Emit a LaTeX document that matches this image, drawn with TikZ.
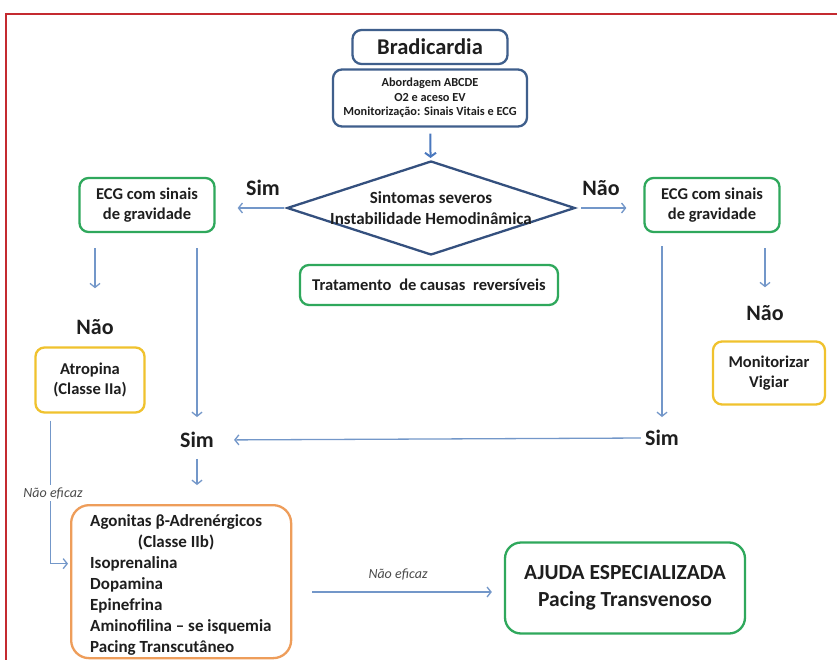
\documentclass[tikz,border=0pt]{standalone}
\usepackage{fontspec}
\usepackage{calc}
\setmainfont{Carlito}
\usetikzlibrary{shapes.geometric,arrows.meta}
\definecolor{framered}{HTML}{C42A30}
\definecolor{navy}{HTML}{3F5F8C}
\definecolor{dnavy}{HTML}{34507E}
\definecolor{grn}{HTML}{2FA85C}
\definecolor{yel}{HTML}{F0C22E}
\definecolor{org}{HTML}{EE9D5A}
\definecolor{arr}{HTML}{7397C9}
\definecolor{arrd}{HTML}{4A78BE}
\definecolor{txt}{HTML}{1E1E1E}
\tikzset{
  box/.style={draw, rounded corners=9pt, line width=2.3pt, align=center, inner sep=0pt, text=txt},
  ecgfont/.style={font=\bfseries\fontsize{16.5}{19.5}\selectfont},
  bigl/.style={font=\bfseries\fontsize{22}{26}\selectfont, inner sep=1pt, text=txt},
  conn/.style={draw=arr, line width=1.3pt, -{Straight Barb[length=4pt,width=10pt]}},
  neff/.style={font=\itshape\fontsize{14}{16}\selectfont, text=txt!80, inner sep=2pt},
}
\begin{document}
\begin{tikzpicture}[x=1pt,y=-1pt]
\useasboundingbox (0,0) rectangle (837,660);
\fill[white] (0,0) rectangle (837,660);
% frame
\draw[framered, line width=2.4pt] (6,680) -- (6,14) -- (860,14);

% top
\node[box, draw=navy, minimum width=155, minimum height=34, font=\bfseries\fontsize{22.5}{26}\selectfont] (brad) at (430,47) {Bradicardia};
\node[box, draw=navy, minimum width=194, minimum height=57, font=\bfseries\fontsize{12.3}{14.5}\selectfont] (abc) at (430,98) {Abordagem ABCDE\\O2 e aceso EV\\Monitorização: Sinais Vitais e ECG};

\node[diamond, draw=dnavy, line width=2.3pt, minimum width=288, minimum height=94, inner sep=0pt,
  label={[align=center, font=\bfseries\fontsize{17}{21}\selectfont, text=txt]center:Sintomas severos\\Instabilidade Hemodinâmica}] (dia) at (431,208) {};

\draw[draw=arrd, line width=2pt, -{Straight Barb[length=4pt,width=11pt]}, shorten <=6pt, shorten >=2pt] (abc) -- (dia);

% side ECG boxes
\node[box, draw=grn, ecgfont, minimum width=135, minimum height=54] (lecg) at (147,205) {ECG com sinais\\de gravidade};
\node[box, draw=grn, ecgfont, minimum width=135, minimum height=54] (recg) at (712,205) {ECG com sinais\\de gravidade};
\node[box, draw=grn, ecgfont, minimum width=258, minimum height=40] (trat) at (429,285) {Tratamento\hspace{4pt} de causas\hspace{4pt} reversíveis};

\node[bigl] (simt) at (263,188) {Sim};
\node[bigl] (naot) at (601,188) {Não};
\draw[conn, shorten <=2pt, shorten >=22pt] (dia.west) -- (dia.west -| lecg.east);
\draw[conn, shorten <=5pt, shorten >=17pt] (dia.east) -- (dia.east -| recg.west);

% left branch
\node[bigl] (lnao) at (95,327) {Não};
\node[box, draw=yel, ecgfont, minimum width=109, minimum height=65] (atr) at (90,380) {Atropina\\(Classe IIa)};
\draw[conn, shorten <=15pt, shorten >=30pt] (lnao |- lecg.south) -- (lnao.north);

\node[bigl] (lsim) at (197,440) {Sim};
\draw[conn, shorten <=15pt, shorten >=14pt] (lsim |- lecg.south) -- (lsim.north);

% right branch
\node[bigl] (rnao) at (765,313) {Não};
\node[box, draw=yel, ecgfont, minimum width=112, minimum height=63] (mon) at (769,373) {Monitorizar\\Vigiar};
\draw[conn, shorten <=15pt, shorten >=17pt] (rnao |- recg.south) -- (rnao.north);

\node[bigl] (rsim) at (662,438) {Sim};
\draw[conn, shorten <=13pt, shorten >=12pt] (rsim |- recg.south) -- (rsim.north);
\draw[conn, shorten <=3pt, shorten >=19pt] (rsim.west) -- (lsim.east);

% orange box
\node[box, draw=org, rounded corners=18pt, minimum width=220, minimum height=153, anchor=north west] (orgb) at (70,504) {};
\node[anchor=west, align=left, inner sep=0pt, text=txt, font=\bfseries\fontsize{17}{21}\selectfont] (orgt) at (90,585)
  {Agonitas β-Adrenérgicos\\\makebox[\widthof{Agonitas β-Adrenérgicos}]{(Classe IIb)}\\Isoprenalina\\Dopamina\\Epinefrina\\Aminofilina – se isquemia\\Pacing Transcutâneo};
\draw[conn, shorten <=10pt, shorten >=19pt] (lsim.south) -- (lsim |- orgb.north);

% atropina -> orange
\coordinate (orgin) at ([yshift=18pt]orgb.west);
\draw[conn, shorten <=7pt, shorten >=2pt] ([xshift=16pt]atr.south west) |- (orgin);
\node[neff, fill=white] (nef1) at (53,493) {Não eficaz};

% ajuda
\node[box, draw=grn, rounded corners=16pt, minimum width=240, minimum height=91, font=\bfseries\fontsize{21.5}{27}\selectfont] (aj) at (625,588) {AJUDA ESPECIALIZADA\\Pacing Transvenoso};
\coordinate (ajin) at ([yshift=-4pt]aj.west);
\draw[conn, shorten <=20pt, shorten >=12pt] (ajin -| orgb.east) -- (ajin) node[neff, midway, above=9pt] (nef2) {Não eficaz};
\end{tikzpicture}
\end{document}
